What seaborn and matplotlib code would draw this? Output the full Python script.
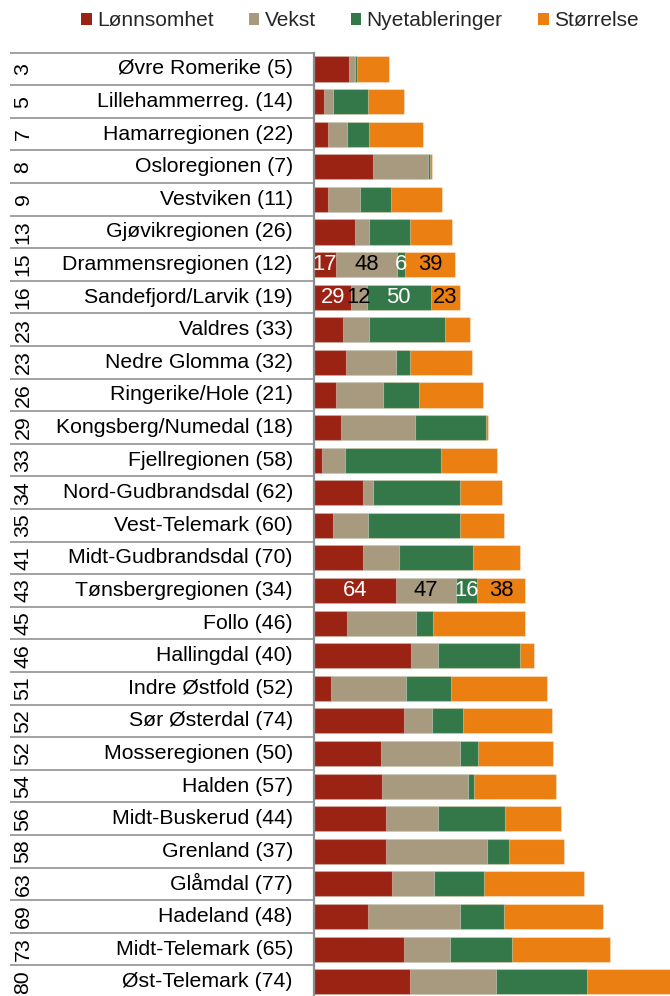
import numpy as np
import matplotlib
matplotlib.use("Agg")
import matplotlib.pyplot as plt
from matplotlib.patches import Patch
import seaborn as sns

# Ranking of regions with the four component scores
ranks = [3, 5, 7, 8, 9, 13, 15, 16, 23, 23, 26, 29, 33, 34, 35, 41, 43, 45, 46,
         51, 52, 52, 54, 56, 58, 63, 69, 73, 80]
regions = ["Øvre Romerike (5)", "Lillehammerreg. (14)", "Hamarregionen (22)",
           "Osloregionen (7)", "Vestviken (11)", "Gjøvikregionen (26)",
           "Drammensregionen (12)", "Sandefjord/Larvik (19)", "Valdres (33)",
           "Nedre Glomma (32)", "Ringerike/Hole (21)", "Kongsberg/Numedal (18)",
           "Fjellregionen (58)", "Nord-Gudbrandsdal (62)", "Vest-Telemark (60)",
           "Midt-Gudbrandsdal (70)", "Tønsbergregionen (34)", "Follo (46)",
           "Hallingdal (40)", "Indre Østfold (52)", "Sør Østerdal (74)",
           "Mosseregionen (50)", "Halden (57)", "Midt-Buskerud (44)",
           "Grenland (37)", "Glåmdal (77)", "Hadeland (48)",
           "Midt-Telemark (65)", "Øst-Telemark (74)"]
lonnsomhet = [27, 8, 11, 46, 11, 32, 17, 29, 23, 25, 17, 21, 6, 38, 15, 38, 64,
              26, 76, 13, 70, 52, 53, 56, 56, 61, 42, 70, 75]
vekst = [5, 7, 15, 43, 25, 11, 48, 12, 20, 39, 37, 58, 18, 8, 27, 28, 47, 54,
         21, 59, 22, 62, 67, 41, 79, 33, 72, 36, 67]
nyetableringer = [1.5, 27, 17, 1.5, 24, 32, 6, 50, 59, 11, 28, 55, 75, 68, 72,
                  58, 16, 13, 64, 35, 24, 14, 5, 52, 17, 39, 34, 49, 71]
storrelse = [25, 28, 42, 1.3, 40, 33, 39, 23, 20, 48, 50, 2, 44, 33, 34, 37, 38,
             72, 11, 75, 70, 59, 64, 44, 43, 78, 78, 76, 70]
series_names = ["Lønnsomhet", "Vekst", "Nyetableringer", "Størrelse"]
labelled = ["Drammensregionen (12)", "Sandefjord/Larvik (19)",
            "Tønsbergregionen (34)"]

colors = ["#9B2314", "#A89A7F", "#34784A", "#EB7F11"]
label_colors = ["white", "black", "white", "black"]

sns.set_theme(style="white")
plt.rcParams["font.family"] = ["Liberation Sans", "DejaVu Sans"]
FS = 15.3

W, H = 670, 996
fig = plt.figure(figsize=(W / 100, H / 100), dpi=100)
ax_left_px, ax_top_px, ax_bot_px = 314, 52.7, 998
ax = fig.add_axes([ax_left_px / W, 1 - ax_bot_px / H,
                   (W - ax_left_px) / W, (ax_bot_px - ax_top_px) / H])

vals = np.array([lonnsomhet, vekst, nyetableringer, storrelse], dtype=float)
cum = vals.cumsum(axis=0)

# Stacked bars: draw cumulative totals from the outermost layer inwards
for k in range(3, -1, -1):
    sns.barplot(x=cum[k], y=regions, order=regions, orient="h", color=colors[k],
                saturation=1, width=0.77, errorbar=None, ax=ax,
                edgecolor=(1, 1, 1, 0.35), linewidth=0.8)

ax.set_xlim(0, 278)
ax.set_ylim(len(regions) - 0.5, -0.5)
ax.set_xlabel("")
ax.set_ylabel("")
ax.set_xticks([])
ax.set_yticks([])
for side in ["top", "right", "bottom"]:
    ax.spines[side].set_visible(False)
ax.spines["left"].set_color("#8c8c8c")
ax.spines["left"].set_linewidth(1.6)

# Value labels for the highlighted regions
for i, reg in enumerate(regions):
    if reg in labelled:
        for k in range(4):
            xc = cum[k, i] - vals[k, i] / 2
            ax.text(xc, i, f"{vals[k, i]:.0f}", ha="center", va="center",
                    fontsize=FS + 0.5, color=label_colors[k])

# Table on the left: rank, region name and row separators
span = W - ax_left_px
x_line0 = (10 - ax_left_px) / span
x_name = (293 - ax_left_px) / span
x_rank = (23 - ax_left_px) / span
tr = ax.get_yaxis_transform()
for i, (rk, reg) in enumerate(zip(ranks, regions)):
    ax.text(x_name, i, reg, transform=tr, ha="right", va="center",
            fontsize=FS, color="black")
    ax.text(x_rank, i, str(rk), transform=tr, ha="center", va="center",
            rotation=90, fontsize=FS, color="black")
for j in range(len(regions) + 1):
    ax.plot([x_line0, 0], [j - 0.5, j - 0.5], transform=tr, color="#9a9a9a",
            lw=1.3, clip_on=False, solid_capstyle="butt")

handles = [Patch(facecolor=c, edgecolor="none") for c in colors]
fig.legend(handles, series_names, loc="center", bbox_to_anchor=(0.537, 0.979),
           ncol=4, frameon=False, fontsize=15, handlelength=0.5,
           handleheight=0.5, handletextpad=0.25, columnspacing=1.7)

fig.savefig("out.png", dpi=100)
